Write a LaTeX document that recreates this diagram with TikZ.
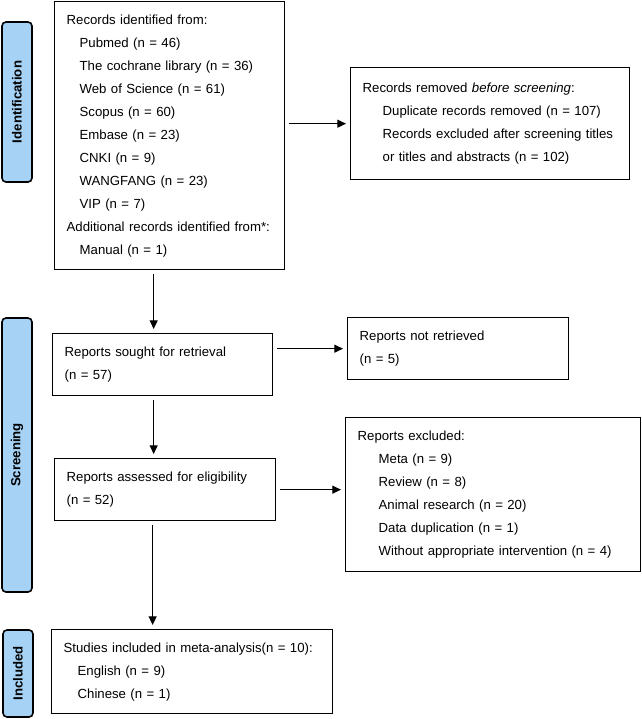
\documentclass[tikz,border=0pt]{standalone}
\usepackage{fontspec}
\setmainfont{Liberation Sans}
\usepackage{tikz}
\usetikzlibrary{positioning,arrows.meta}
\tikzset{c-rectangle/.style={rectangle, anchor=north west, inner xsep=9pt, align=left, draw=black, line width=1pt, fill=white, font=\fontsize{9.9}{17.25}\selectfont},
c-bar/.style={rectangle, rounded corners=3pt, rotate=90, minimum height=22.5pt, draw=black, line width=1.2pt, fill=c_bar, font=\fontsize{9.9}{12}\selectfont\bfseries},
arrow/.style={line width=0.8pt,->,>={Triangle[length=6.5pt,width=6pt]}, shorten <=3pt, shorten >=3pt}}
\definecolor{c_bar}{RGB}{165,210,245}
\newcommand{\ind}[1]{\hspace*{#1}}

\begin{document}
\begin{tikzpicture}[x=0.75pt, y=-0.75pt]
\useasboundingbox (0,0) rectangle (642,719);
\node (b0) [c-bar, minimum width=120pt] at (17,102) {Identification};
\node (b1) [c-bar, minimum width=205.5pt] at (17,455) {Screening};
\node (b2) [c-bar, minimum width=65.25pt] at (18,673.5) {Included};
\node (n0) [c-rectangle, minimum width=172.5pt, minimum height=201pt, text width=154.5pt] at (54,1) {
Records identified from:\\
\ind{9.75pt}Pubmed (n = 46)\\
\ind{9.75pt}The cochrane library (n = 36)\\
\ind{9.75pt}Web of Science (n = 61)\\
\ind{9.75pt}Scopus (n = 60)\\
\ind{9.75pt}Embase (n = 23)\\
\ind{9.75pt}CNKI (n = 9)\\
\ind{9.75pt}WANGFANG (n = 23)\\
\ind{9.75pt}VIP (n = 7)\\
Additional records identified from*:\\
\ind{9.75pt}Manual (n = 1)
};
\node (n1) [c-rectangle, minimum width=209.25pt, minimum height=84pt, text width=191.25pt] at (350,67) {
Records removed \emph{before screening}:\\
\ind{15pt}Duplicate records removed (n = 107)\\
\ind{15pt}Records excluded after screening titles\\
\ind{15pt}or titles and abstracts (n = 102)
};
\node (n2) [c-rectangle, minimum width=165pt, minimum height=46.5pt, text width=147pt] at (52,333) {
Reports sought for retrieval\\
(n = 57)
};
\node (n3) [c-rectangle, minimum width=165.75pt, minimum height=46.5pt, text width=147.75pt] at (347,317) {
Reports not retrieved\\
(n = 5)
};
\node (n4) [c-rectangle, minimum width=165.75pt, minimum height=46.5pt, text width=147.75pt] at (54,458) {
Reports assessed for eligibility\\
(n = 52)
};
\node (n5) [c-rectangle, minimum width=221.25pt, minimum height=115.5pt, text width=203.25pt] at (345,417) {
Reports excluded:\\
\ind{15.75pt}Meta (n = 9)\\
\ind{15.75pt}Review (n = 8)\\
\ind{15.75pt}Animal research (n = 20)\\
\ind{15.75pt}Data duplication (n = 1)\\
\ind{15.75pt}Without appropriate intervention (n = 4)
};
\node (n6) [c-rectangle, minimum width=210.75pt, minimum height=63pt, text width=192.75pt] at (51,629) {
Studies included in meta-analysis(n = 10):\\
\ind{10.5pt}English (n = 9)\\
\ind{10.5pt}Chinese (n = 1)
};
\draw [arrow] ([xshift=-12pt]n0.south) -- ([xshift=-12pt]n0.south |- n2.north);
\draw [arrow] (n0.east |- n1.west) -- (n1.west);
\draw [arrow] ([xshift=-6.75pt]n2.south) -- ([xshift=-6.75pt]n2.south |- n4.north);
\draw [arrow] (n2.east |- n3.west) -- (n3.west);
\draw [arrow] ([xshift=-9.4pt]n4.south) -- ([xshift=-9.4pt]n4.south |- n6.north);
\draw [arrow] (n4.east) -- (n4.east -| n5.west);
\end{tikzpicture}
\end{document}
